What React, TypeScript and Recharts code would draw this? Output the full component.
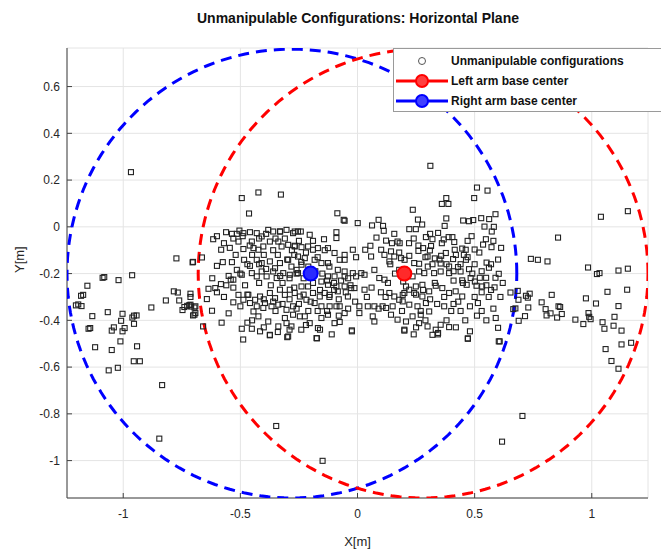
import { ScatterChart, Scatter, XAxis, YAxis, CartesianGrid } from "recharts";

type Pt = { x: number; y: number };
const toPts = (list: number[][]): Pt[] => list.map(([x, y]) => ({ x, y }));

// unmanipulable configurations [x, y] in metres
const farLeftPoints = toPts([
  [-0.967, 0.234], [-0.773, -0.135], [-0.704, -0.152], [-1.088, -0.218], [-1.081, -0.215],
  [-1.02, -0.228], [-0.962, -0.207], [-1.153, -0.252], [-1.18, -0.295], [-1.171, -0.291],
  [-1.202, -0.336], [-1.192, -0.332], [-1.178, -0.339], [-1.132, -0.382], [-1.066, -0.365],
  [-1.003, -0.372], [-1.009, -0.402], [-0.961, -0.388], [-0.954, -0.38], [-0.943, -0.379],
  [-0.954, -0.415], [-1.148, -0.436], [-1.141, -0.433], [-1.049, -0.444], [-1.04, -0.43],
  [-1.003, -0.447], [-0.994, -0.433], [-1.012, -0.49], [-1.12, -0.515], [-1.049, -0.527],
  [-0.941, -0.511], [-0.955, -0.575], [-0.929, -0.575], [-1.062, -0.614], [-1.023, -0.603],
  [-0.834, -0.677], [-0.88, -0.345], [-0.818, -0.315], [-0.784, -0.276], [-0.767, -0.281],
  [-0.761, -0.315], [-0.713, -0.286], [-0.713, -0.3], [-0.747, -0.356], [-0.739, -0.343],
  [-0.727, -0.338], [-0.718, -0.335], [-0.71, -0.341], [-0.696, -0.345], [-0.692, -0.369],
  [-0.702, -0.379],
]);

const leftClusterPoints = toPts([
  [-0.423, 0.147], [-0.327, 0.138], [-0.494, 0.123], [-0.463, 0.057],
  [-0.561, -0.023], [-0.536, -0.03], [-0.515, -0.03], [-0.504, -0.016], [-0.487, -0.027],
  [-0.459, -0.023], [-0.43, -0.027], [-0.409, -0.041], [-0.381, -0.013], [-0.36, -0.02],
  [-0.331, -0.02], [-0.303, -0.013], [-0.275, -0.027], [-0.254, -0.02],
  [-0.616, -0.053], [-0.582, -0.098], [-0.545, -0.09], [-0.508, -0.063], [-0.487, -0.095],
  [-0.451, -0.063], [-0.444, -0.091], [-0.423, -0.098], [-0.402, -0.084], [-0.374, -0.063],
  [-0.338, -0.063], [-0.324, -0.084], [-0.296, -0.077], [-0.268, -0.084],
  [-0.664, -0.131], [-0.702, -0.15], [-0.6, -0.167], [-0.575, -0.151], [-0.536, -0.151],
  [-0.484, -0.141], [-0.459, -0.167], [-0.43, -0.141], [-0.409, -0.155], [-0.374, -0.148],
  [-0.352, -0.177], [-0.331, -0.155], [-0.296, -0.141], [-0.282, -0.17],
  [-0.515, -0.184], [-0.494, -0.205], [-0.541, -0.226], [-0.53, -0.226], [-0.451, -0.198],
  [-0.43, -0.212], [-0.409, -0.191], [-0.388, -0.212], [-0.36, -0.191], [-0.345, -0.219],
  [-0.317, -0.198], [-0.289, -0.205], [-0.26, -0.184],
  [-0.636, -0.265], [-0.607, -0.262], [-0.583, -0.245], [-0.643, -0.309], [-0.692, -0.34],
  [-0.659, -0.426], [-0.621, -0.359], [-0.53, -0.323], [-0.508, -0.291], [-0.487, -0.312],
  [-0.466, -0.291], [-0.459, -0.326], [-0.437, -0.312], [-0.416, -0.298], [-0.395, -0.326],
  [-0.374, -0.283], [-0.352, -0.305], [-0.331, -0.269], [-0.31, -0.291], [-0.289, -0.269],
  [-0.268, -0.283], [-0.303, -0.355], [-0.275, -0.34], [-0.43, -0.34], [-0.402, -0.347],
  [-0.367, -0.34], [-0.338, -0.333], [-0.444, -0.362], [-0.423, -0.383], [-0.381, -0.405],
  [-0.338, -0.426], [-0.303, -0.412], [-0.282, -0.426], [-0.275, -0.376], [-0.494, -0.436],
  [-0.451, -0.436], [-0.416, -0.447], [-0.374, -0.462], [-0.296, -0.469], [-0.696, -0.376],
  [-0.713, -0.333],
  [-0.33, -0.02], [-0.31, -0.05], [-0.28, -0.1], [-0.25, -0.06], [-0.22, -0.11],
  [-0.19, -0.06], [-0.17, -0.13], [-0.14, -0.1], [-0.12, -0.17], [-0.36, -0.1],
  [-0.4, -0.12], [-0.45, -0.12], [-0.52, -0.12], [-0.55, -0.21], [-0.48, -0.25],
  [-0.42, -0.24], [-0.37, -0.25], [-0.32, -0.24], [-0.27, -0.26], [-0.23, -0.29],
  [-0.2, -0.32], [-0.16, -0.27], [-0.12, -0.3], [-0.08, -0.31], [-0.04, -0.22],
  [-0.35, -0.36], [-0.31, -0.39], [-0.26, -0.35], [-0.22, -0.42], [-0.16, -0.44],
  [-0.11, -0.46], [-0.45, -0.4], [-0.5, -0.34], [-0.57, -0.3], [-0.62, -0.22],
  [-0.6, -0.04], [-0.57, -0.07], [-0.53, -0.05], [-0.49, -0.04], [-0.46, -0.08],
  [-0.42, -0.05], [-0.39, -0.03], [-0.35, -0.05], [-0.34, -0.12], [-0.3, -0.14],
  [-0.27, -0.12], [-0.24, -0.15], [-0.21, -0.17], [-0.18, -0.19], [-0.15, -0.2],
  [-0.13, -0.23], [-0.1, -0.24], [-0.07, -0.23], [-0.03, -0.25], [-0.05, -0.28],
  [-0.1, -0.27], [-0.19, -0.24], [-0.23, -0.22], [-0.26, -0.2], [-0.29, -0.22],
  [-0.33, -0.21], [-0.39, -0.18], [-0.42, -0.16], [-0.47, -0.16], [-0.5, -0.2],
  [-0.53, -0.26], [-0.56, -0.25], [-0.6, -0.28], [-0.47, -0.29], [-0.4, -0.31],
  [-0.36, -0.32], [-0.32, -0.33], [-0.29, -0.31], [-0.25, -0.33], [-0.21, -0.36],
  [-0.17, -0.36], [-0.13, -0.36], [-0.08, -0.38], [-0.04, -0.35], [-0.01, -0.32],
  [-0.24, -0.44], [-0.29, -0.44], [-0.34, -0.45], [-0.4, -0.43], [-0.47, -0.41],
  [-0.55, -0.37], [-0.58, -0.41],
]);

const centerPoints = toPts([
  [-0.086, 0.058], [-0.059, 0.03], [-0.055, 0.026], [0.001, 0.016], [0.062, 0.006],
  [0.09, 0.03], [0.109, 0.004], [0.112, -0.017], [-0.242, -0.02], [-0.268, -0.02],
  [-0.204, -0.034], [-0.143, -0.053], [-0.09, -0.023], [-0.09, -0.048], [0.081, -0.046],
  [0.157, -0.03], [0.171, -0.063], [0.147, -0.07], [0.122, -0.059], [-0.268, -0.081],
  [-0.239, -0.087], [-0.211, -0.084], [-0.19, -0.098], [-0.169, -0.091], [-0.126, -0.091],
  [-0.098, -0.112], [-0.055, -0.12], [-0.02, -0.098], [-0.006, -0.13], [-0.055, -0.141],
  [-0.076, -0.141], [0.033, -0.098], [0.055, -0.081], [0.058, -0.127], [0.101, -0.098],
  [0.115, -0.12], [0.143, -0.105], [0.157, -0.127], [0.136, -0.148], [0.178, -0.11],
  [0.186, -0.134], [-0.254, -0.127], [-0.225, -0.134], [-0.183, -0.141], [-0.154, -0.155],
  [-0.126, -0.155], [-0.239, -0.162], [-0.084, -0.184], [-0.055, -0.191], [-0.02, -0.198],
  [0.016, -0.198], [0.03, -0.205], [0.072, -0.184], [0.093, -0.219], [0.115, -0.226],
  [-0.055, -0.212], [-0.006, -0.212], [-0.098, -0.212], [-0.254, -0.198], [-0.126, -0.212],
  [-0.154, -0.234], [-0.126, -0.248], [-0.09, -0.255], [-0.055, -0.255], [-0.027, -0.262],
  [-0.084, -0.276], [-0.041, -0.298], [-0.013, -0.262], [0.03, -0.269], [-0.119, -0.291],
  [-0.14, -0.283], [-0.161, -0.298], [-0.19, -0.283], [-0.211, -0.255], [-0.239, -0.255],
  [-0.246, -0.298], [-0.218, -0.312], [-0.183, -0.326], [-0.154, -0.34], [-0.119, -0.34],
  [-0.09, -0.34], [-0.076, -0.34], [-0.055, -0.369], [0.008, -0.34], [0.008, -0.369],
  [0.044, -0.34], [0.072, -0.34], [0.107, -0.34], [0.122, -0.347], [0.143, -0.376],
  [0.065, -0.383], [0.072, -0.405], [-0.098, -0.412], [-0.076, -0.407], [-0.126, -0.376],
  [-0.154, -0.39], [-0.169, -0.433], [-0.175, -0.476], [-0.204, -0.412], [-0.225, -0.383],
  [-0.246, -0.383], [0.157, -0.298], [0.178, -0.312], [0.136, -0.283], [0.171, -0.397],
  [-0.024, -0.443], [0.193, -0.291],
  [0.16, -0.2], [0.13, -0.24], [0.1, -0.28], [0.06, -0.26], [0.04, -0.3],
]);

const rightClusterPoints = toPts([
  [0.311, 0.261], [0.51, 0.168], [0.555, 0.155], [0.498, 0.123], [0.36, 0.098],
  [0.388, 0.098], [0.379, 0.123], [0.236, 0.073], [0.258, 0.031], [0.276, 0.01],
  [0.249, -0.01], [0.221, -0.01], [0.379, 0.036], [0.372, 0.004], [0.451, 0.027],
  [0.476, 0.024], [0.494, 0.029], [0.528, 0.037], [0.562, 0.033], [0.589, 0.054],
  [0.542, 0.001], [0.582, 0], [0.573, -0.02], [0.344, -0.026], [0.487, -0.04],
  [0.292, -0.044], [0.32, -0.053], [0.368, -0.054], [0.389, -0.044], [0.405, -0.044],
  [0.413, -0.065], [0.548, -0.053], [0.58, -0.06], [0.536, -0.076], [0.572, -0.087],
  [0.613, -0.09], [0.5, -0.097], [0.447, -0.093], [0.462, -0.098], [0.454, -0.12],
  [0.463, -0.141], [0.26, -0.103], [0.28, -0.091], [0.314, -0.082], [0.309, -0.101],
  [0.299, -0.127], [0.33, -0.135], [0.357, -0.124], [0.355, -0.157], [0.391, -0.17],
  [0.408, -0.138], [0.429, -0.172], [0.377, -0.112], [0.415, -0.098], [0.221, -0.124],
  [0.201, -0.141], [0.242, -0.155], [0.263, -0.158], [0.551, -0.153], [0.561, -0.175],
  [0.327, -0.198], [0.355, -0.191], [0.391, -0.198], [0.44, -0.191], [0.476, -0.181],
  [0.483, -0.219], [0.447, -0.229], [0.522, -0.218], [0.549, -0.218], [0.589, -0.218],
  [0.603, -0.201], [0.466, -0.248], [0.508, -0.252], [0.532, -0.255], [0.585, -0.259],
  [0.501, -0.234], [0.195, -0.234], [0.207, -0.255], [0.221, -0.269], [0.249, -0.255],
  [0.277, -0.248], [0.306, -0.276], [0.334, -0.252], [0.362, -0.262], [0.391, -0.283],
  [0.419, -0.276], [0.447, -0.298], [0.514, -0.326], [0.193, -0.319], [0.221, -0.333],
  [0.256, -0.34], [0.292, -0.326], [0.306, -0.362], [0.27, -0.376], [0.235, -0.383],
  [0.207, -0.405], [0.263, -0.412], [0.299, -0.426], [0.334, -0.44], [0.355, -0.419],
  [0.32, -0.462], [0.391, -0.429], [0.2, -0.44], [0.344, -0.454], [0.48, -0.447],
  [0.471, -0.479], [0.6, -0.432], [0.607, -0.49], [0.178, -0.184], [0.207, -0.212],
  [0.235, -0.212], [0.263, -0.191], [0.285, -0.198], [0.2, -0.283], [0.242, -0.283],
  [0.277, -0.298],
  [0.24, -0.05], [0.3, -0.17], [0.33, -0.24], [0.37, -0.3], [0.4, -0.36],
  [0.43, -0.32], [0.46, -0.4], [0.5, -0.3], [0.53, -0.36], [0.56, -0.3],
  [0.58, -0.35], [0.27, -0.36], [0.24, -0.46], [0.42, -0.12], [0.47, -0.06],
  [0.52, -0.11], [0.36, -0.07], [0.31, -0.03], [0.49, -0.2], [0.55, -0.25],
  [0.14, -0.16], [0.18, -0.07], [0.22, -0.07], [0.26, -0.08], [0.29, -0.13],
  [0.32, -0.16], [0.35, -0.14], [0.38, -0.16], [0.41, -0.19], [0.44, -0.16],
  [0.47, -0.13], [0.5, -0.16], [0.53, -0.19], [0.57, -0.16], [0.6, -0.14],
  [0.25, -0.29], [0.28, -0.27], [0.31, -0.31], [0.34, -0.33], [0.37, -0.34],
  [0.41, -0.33], [0.44, -0.36], [0.48, -0.34], [0.51, -0.38], [0.55, -0.4],
  [0.59, -0.39], [0.38, -0.4], [0.42, -0.43], [0.29, -0.4], [0.25, -0.43],
  [0.12, -0.3], [0.09, -0.35], [0.15, -0.34], [0.19, -0.36], [0.45, -0.24],
  [0.41, -0.23], [0.53, -0.28], [0.57, -0.27], [0.61, -0.3], [0.62, -0.24],
]);

const farRightPoints = toPts([
  [1.039, 0.043], [1.154, 0.067], [0.856, -0.046], [0.74, -0.137], [0.77, -0.141],
  [0.811, -0.148], [0.984, -0.174], [1.022, -0.202], [1.033, -0.198], [1.114, -0.187],
  [1.154, -0.179], [1.067, -0.278], [1.151, -0.269], [0.829, -0.291], [0.975, -0.306],
  [1.018, -0.328], [1.114, -0.339], [0.786, -0.323], [0.803, -0.352], [0.824, -0.37],
  [0.807, -0.379], [0.858, -0.34], [0.865, -0.343], [0.872, -0.373], [0.852, -0.388],
  [0.93, -0.397], [0.964, -0.416], [0.986, -0.369], [0.989, -0.385], [0.995, -0.395],
  [1.046, -0.408], [1.054, -0.436], [1.097, -0.385], [1.093, -0.423], [1.127, -0.444],
  [1.127, -0.503], [1.168, -0.496], [1.059, -0.523], [1.084, -0.574], [1.114, -0.607],
  [0.653, -0.281], [0.684, -0.274], [0.687, -0.312], [0.719, -0.295], [0.735, -0.286],
  [0.727, -0.303], [0.729, -0.345], [0.674, -0.349], [0.665, -0.352], [0.688, -0.402],
  [0.715, -0.382],
]);

const lowerPoints = toPts([
  [-0.846, -0.906], [-0.347, -0.852], [-0.149, -1.001], [0.704, -0.809], [0.617, -0.919],
  [-0.488, -0.482], [-0.3, -0.472], [-0.173, -0.477], [-0.374, -0.464], [0.471, -0.477],
  [0.603, -0.49], [-0.024, -0.447], [0.2, -0.444], [0.343, -0.46],
]);

const leftArmBase = [{ x: 0.2, y: -0.2 }];
const rightArmBase = [{ x: -0.2, y: -0.2 }];

// reach circles (center x, center y, radius)
const leftReach = { cx: 0.28, cy: -0.2, r: 0.96 };
const rightReach = { cx: -0.28, cy: -0.2, r: 0.96 };

const xTicks = [-1, -0.5, 0, 0.5, 1];
const yTicks = [-1, -0.8, -0.6, -0.4, -0.2, 0, 0.2, 0.4, 0.6];

const circlePath = (c: { cx: number; cy: number; r: number }) => {
  const out: Pt[] = [];
  for (let i = 0; i <= 180; i++) {
    const a = (i / 180) * Math.PI * 2;
    out.push({ x: c.cx + c.r * Math.cos(a), y: c.cy + c.r * Math.sin(a) });
  }
  return out;
};

const allPoints = [
  ...farLeftPoints,
  ...leftClusterPoints,
  ...centerPoints,
  ...rightClusterPoints,
  ...farRightPoints,
  ...lowerPoints,
];

const font = "'Liberation Sans', Arial, sans-serif";

const Square = (props: any) => (
  <rect
    x={props.cx - 2.5}
    y={props.cy - 2.5}
    width={5}
    height={5}
    fill="none"
    stroke="#222"
    strokeWidth={1.1}
  />
);

const baseDot = (fill: string, stroke: string) => (props: any) => (
  <circle cx={props.cx} cy={props.cy} r={7} fill={fill} stroke={stroke} strokeWidth={2} />
);

const NoDot = () => <g />;

function LegendBox() {
  const row = (y: number) => ({ position: "absolute" as const, left: 57, top: y, whiteSpace: "nowrap" as const });
  return (
    <div
      style={{
        position: "absolute",
        left: 393,
        top: 48,
        width: 280,
        height: 62,
        background: "#fff",
        border: "1px solid #9a9a9a",
        fontFamily: font,
        fontWeight: "bold",
        fontSize: 12,
        color: "#111",
      }}
    >
      <svg width={60} height={62} style={{ position: "absolute", left: 0, top: 0 }}>
        <circle cx={28} cy={12} r={3.5} fill="none" stroke="#555" strokeWidth={1} />
        <line x1={2} y1={32} x2={54} y2={32} stroke="#ff0000" strokeWidth={3} />
        <circle cx={28} cy={32} r={6} fill="#ff4040" stroke="#ff0000" strokeWidth={2} />
        <line x1={2} y1={52} x2={54} y2={52} stroke="#0000ff" strokeWidth={3} />
        <circle cx={28} cy={52} r={6} fill="#4040ff" stroke="#0000ff" strokeWidth={2} />
      </svg>
      <div style={row(5)}>Unmanipulable configurations</div>
      <div style={row(25)}>Left arm base center</div>
      <div style={row(45)}>Right arm base center</div>
    </div>
  );
}

export default function App() {
  return (
    <div style={{ position: "absolute", left: 0, top: 0, width: 661, height: 556, background: "#fff", overflow: "hidden" }}>
      <div
        style={{
          position: "absolute",
          left: 0,
          width: 716,
          top: 10,
          textAlign: "center",
          fontFamily: font,
          fontWeight: "bold",
          fontSize: 14,
          color: "#111",
        }}
      >
        Unmanipulable Configurations: Horizontal Plane
      </div>
      <ScatterChart
        width={661}
        height={556}
        margin={{ top: 48, right: 13, bottom: 8, left: 7 }}
        style={{ fontFamily: font }}
      >
        <CartesianGrid stroke="#e4e4e4" strokeWidth={1} />
        <XAxis
          type="number"
          dataKey="x"
          domain={[-1.24, 1.24]}
          allowDataOverflow
          ticks={xTicks}
          interval={0}
          height={50}
          stroke="#404040"
          tickSize={-5}
          tickMargin={16}
          tick={{ fill: "#262626", fontSize: 12 }}
          label={{ value: "X[m]", position: "insideBottom", offset: 2, fill: "#262626", fontSize: 13 }}
        />
        <YAxis
          type="number"
          dataKey="y"
          domain={[-1.16, 0.765]}
          allowDataOverflow
          ticks={yTicks}
          interval={0}
          width={60}
          stroke="#404040"
          tickSize={-5}
          tickMargin={12}
          tick={{ fill: "#262626", fontSize: 12 }}
          label={{ value: "Y[m]", angle: -90, position: "insideLeft", offset: 12, fill: "#262626", fontSize: 13 }}
        />
        <Scatter
          data={circlePath(rightReach)}
          shape={NoDot}
          line={{ stroke: "#0000ff", strokeWidth: 3, strokeDasharray: "11 7" }}
          isAnimationActive={false}
        />
        <Scatter
          data={circlePath(leftReach)}
          shape={NoDot}
          line={{ stroke: "#ff0000", strokeWidth: 3, strokeDasharray: "11 7" }}
          isAnimationActive={false}
        />
        <Scatter data={allPoints} shape={Square} isAnimationActive={false} />
        <Scatter data={leftArmBase} shape={baseDot("#ff2a2a", "#ff0000")} isAnimationActive={false} />
        <Scatter data={rightArmBase} shape={baseDot("#2a2aff", "#0000ff")} isAnimationActive={false} />
      </ScatterChart>
      <LegendBox />
    </div>
  );
}
